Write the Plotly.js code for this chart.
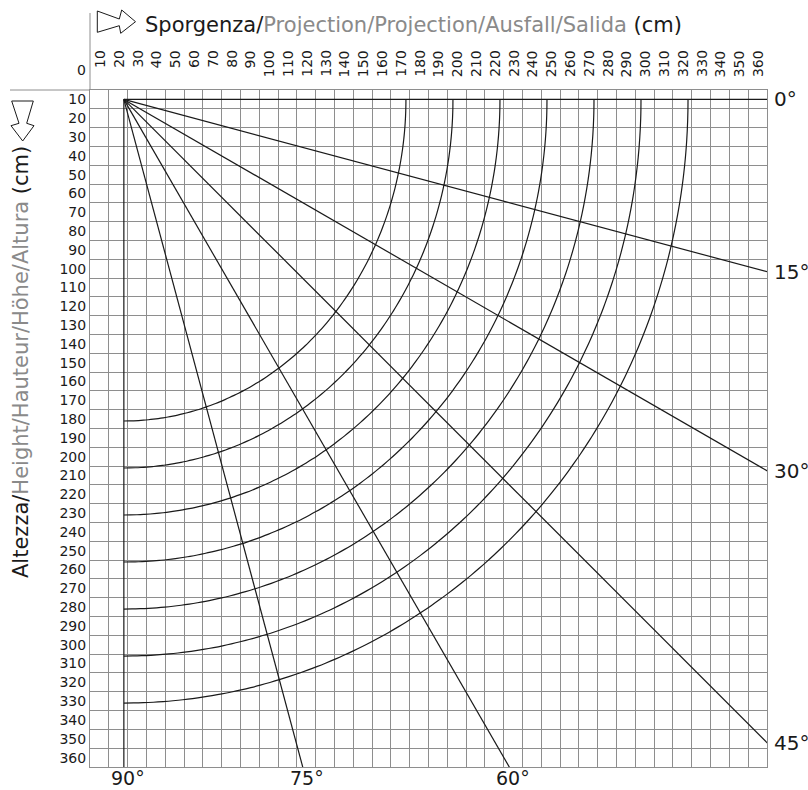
<!DOCTYPE html>
<html>
<head>
<meta charset="utf-8">
<script src="https://cdn.plot.ly/plotly-3.0.1.min.js"></script>
<style>html,body{margin:0;padding:0;background:#fff;}#chart{width:808px;height:790px;}</style>
</head>
<body>
<div id="chart"></div>
<script>
// ---- data ----
const xTickLabels = [10,20,30,40,50,60,70,80,90,100,110,120,130,140,150,160,170,180,190,200,210,220,230,240,250,260,270,280,290,300,310,320,330,340,350,360];
const yTickLabels = [10,20,30,40,50,60,70,80,90,100,110,120,130,140,150,160,170,180,190,200,210,220,230,240,250,260,270,280,290,300,310,320,330,340,350,360];
const armLengths = [150,175,200,225,250,275,300];      // cm
const armAngles = [0,15,30,45,60,75,90];               // degrees
const rightAngleLabels = [0,15,30,45];
const bottomAngleLabels = [60,75,90];
const pivotX = 23;   // cm
const pivotY = 10;   // cm
const frontDrop = 21; // cm extra height at 90°

const FONT = 'DejaVu Sans, Verdana, sans-serif';
const INK = '#1a1a1a';
const GREY_TXT = '#8a8a8a';
const GRID = '#8e8e8e';

const xMin = 5, xMax = 365, yMin = 5, yMax = 365;
const traces = [];
const rad = d => d * Math.PI / 180;

// geometry of the page (for paper-referenced decorations)
const W = 808, H = 790, ML = 90, MR = 41, MT = 90, MB = 23;
const PW = W - ML - MR, PH = H - MT - MB;
const px = x => (x - ML) / PW;          // pixel -> paper x
const py = y => (H - MB - y) / PH;      // pixel -> paper y

// angle rays
armAngles.forEach(a => {
  const L = 700;
  traces.push({
    type: 'scatter', mode: 'lines', hoverinfo: 'skip', showlegend: false,
    x: [pivotX, pivotX + L * Math.cos(rad(a))],
    y: [pivotY, pivotY + L * Math.sin(rad(a))],
    line: {color: INK, width: 1.2}
  });
});

// arm arcs
armLengths.forEach(r => {
  const xs = [], ys = [];
  for (let t = 0; t <= 90; t += 1) {
    xs.push(pivotX + r * Math.cos(rad(t)));
    ys.push(pivotY + (r + frontDrop) * Math.sin(rad(t)));
  }
  traces.push({
    type: 'scatter', mode: 'lines', hoverinfo: 'skip', showlegend: false,
    x: xs, y: ys, line: {color: INK, width: 1.2, shape: 'spline'}
  });
});

const annotations = [];
// top tick labels (rotated; padded with figure spaces so their tops align)
const FIG = '\u2007';
xTickLabels.forEach(v => {
  const s = String(v);
  annotations.push({
    x: v, xref: 'x', y: py(63.5), yref: 'paper', yanchor: 'middle', xanchor: 'center',
    text: FIG.repeat(3 - s.length) + s, textangle: -90, showarrow: false,
    font: {family: FONT, size: 14, color: INK}
  });
});
// corner zero
annotations.push({x: px(81), xref: 'paper', y: py(70), yref: 'paper', xanchor: 'center', yanchor: 'middle',
  text: '0', showarrow: false, font: {family: FONT, size: 14, color: INK}});

// right angle labels
rightAngleLabels.forEach(a => {
  const yEnd = pivotY + (xMax - pivotX) * Math.tan(rad(a));
  annotations.push({x: px(772), xref: 'paper', y: yEnd, yref: 'y', xanchor: 'left', yanchor: 'middle',
    text: a + '°', showarrow: false, font: {family: FONT, size: 20, color: INK}});
});
// bottom angle labels
bottomAngleLabels.forEach(a => {
  const xEnd = a === 90 ? pivotX : pivotX + (yMax - pivotY) / Math.tan(rad(a));
  annotations.push({x: xEnd, xref: 'x', y: py(777.5), yref: 'paper',
    xanchor: 'center', yanchor: 'middle', xshift: 4,
    text: a + '°', showarrow: false, font: {family: FONT, size: 19, color: INK}});
});

// titles
annotations.push({x: px(143), xref: 'paper', y: py(25), yref: 'paper', xanchor: 'left', yanchor: 'middle',
  text: 'Sporgenza/<span style="color:' + GREY_TXT + '">Projection/Projection/Ausfall/Salida</span> (cm)',
  showarrow: false, font: {family: FONT, size: 21, color: INK}});
annotations.push({x: px(21), xref: 'paper', y: py(362), yref: 'paper', xanchor: 'center', yanchor: 'middle',
  text: 'Altezza/<span style="color:' + GREY_TXT + '">Height/Hauteur/Höhe/Altura</span> (cm)',
  textangle: -90, showarrow: false, font: {family: FONT, size: 21, color: INK}});

// outlined arrows (pixel outlines converted to paper coords)
const rightArrowPx = [[97.3,11],[119.3,19],[121.7,10],[135.5,21.7],[120.7,33.3],[119.3,25.7],[97.3,32.3]];
const downArrowPx = [[11.7,101],[33.3,101],[26.7,123.3],[34,125.7],[22.7,141],[11,125.7],[19,123.3]];
const toPath = pts => 'M ' + pts.map(p => px(p[0]).toFixed(5) + ',' + py(p[1]).toFixed(5)).join(' L ') + ' Z';

const shapes = [
  // extended header lines
  {type: 'line', xref: 'paper', yref: 'paper', x0: 0, x1: 0, y0: 1, y1: py(13), line: {color: GRID, width: 1}},
  {type: 'line', xref: 'paper', yref: 'paper', x0: px(10), x1: 0, y0: 1, y1: 1, line: {color: GRID, width: 1}},
  {type: 'path', xref: 'paper', yref: 'paper', path: toPath(rightArrowPx), line: {color: INK, width: 1}, fillcolor: 'rgba(0,0,0,0)'},
  {type: 'path', xref: 'paper', yref: 'paper', path: toPath(downArrowPx), line: {color: INK, width: 1}, fillcolor: 'rgba(0,0,0,0)'}
];

const layout = {
  width: W, height: H,
  margin: {l: ML, r: MR, t: MT, b: MB, pad: 0},
  paper_bgcolor: '#fff', plot_bgcolor: '#fff',
  showlegend: false,
  xaxis: {
    range: [xMin, xMax], tickmode: 'linear', tick0: 5, dtick: 10,
    showticklabels: false, ticks: '', showgrid: true, gridcolor: GRID, gridwidth: 1,
    zeroline: false, showline: true, mirror: true, linecolor: GRID, linewidth: 1, fixedrange: true
  },
  yaxis: {
    range: [yMax, yMin], tickmode: 'array', tickvals: yTickLabels, ticktext: yTickLabels.map(String),
    ticks: '', showgrid: false, zeroline: false,
    minor: {tickmode: 'linear', tick0: 5, dtick: 10, showgrid: true, gridcolor: GRID, gridwidth: 1, ticks: ''},
    showline: true, mirror: true, linecolor: GRID, linewidth: 1,
    tickfont: {family: FONT, size: 14, color: INK}, fixedrange: true
  },
  annotations: annotations,
  shapes: shapes
};

Plotly.newPlot('chart', traces, layout, {displayModeBar: false, staticPlot: true});
</script>
</body>
</html>
